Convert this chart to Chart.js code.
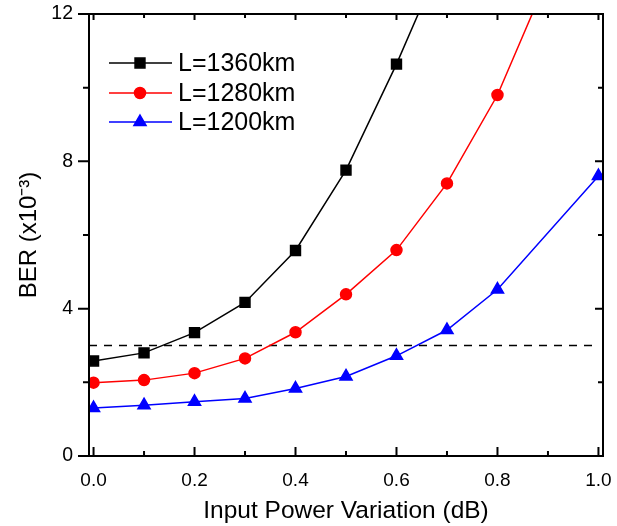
<!DOCTYPE html>
<html>
<head>
<meta charset="utf-8">
<script src="https://cdn.jsdelivr.net/npm/chart.js@4.4.1/dist/chart.umd.min.js"></script>
<style>
  html, body { margin: 0; padding: 0; background: #fff; }
  #wrap { width: 617px; height: 526px; position: relative; }
</style>
</head>
<body>
<div id="wrap"><canvas id="c" width="617" height="526"></canvas></div>
<script>
// ---- data ----
const xValues = [0.0, 0.1, 0.2, 0.3, 0.4, 0.5, 0.6, 0.7, 0.8, 0.9, 1.0];
const ber1360 = [2.58, 2.80, 3.35, 4.17, 5.58, 7.76, 10.64, 13.8];
const ber1280 = [1.99, 2.06, 2.25, 2.65, 3.36, 4.39, 5.59, 7.40, 9.80, 13.0];
const x1200   = [0.0, 0.1, 0.2, 0.3, 0.4, 0.5, 0.6, 0.7, 0.8, 1.0];
const ber1200 = [1.30, 1.38, 1.47, 1.56, 1.83, 2.16, 2.72, 3.42, 4.52, 7.60];
const thresholdX = [-0.009, 1.0];
const thresholdY = [3.0, 3.0];
const seriesNames = ['L=1360km', 'L=1280km', 'L=1200km'];
const xTicks = [0.0, 0.2, 0.4, 0.6, 0.8, 1.0];
const xMinorTicks = [0.1, 0.3, 0.5, 0.7, 0.9];
const yTicks = [0, 4, 8, 12];
const yMinorTicks = [2, 6, 10];

const FONT = '"Liberation Sans", Arial, Helvetica, sans-serif';

function pts(xs, ys) { return ys.map((y, i) => ({ x: xs[i], y: y })); }

const frameAndTicks = {
  id: 'frameAndTicks',
  afterDatasetsDraw(chart) {
    const ctx = chart.ctx;
    const a = chart.chartArea;
    const xs = chart.scales.x, ys = chart.scales.y;
    ctx.save();
    ctx.strokeStyle = '#000';
    ctx.lineWidth = 2;
    ctx.strokeRect(a.left, a.top, a.right - a.left, a.bottom - a.top);
    ctx.beginPath();
    xTicks.forEach(v => {
      const p = xs.getPixelForValue(v);
      ctx.moveTo(p, a.bottom); ctx.lineTo(p, a.bottom - 9);
      ctx.moveTo(p, a.top); ctx.lineTo(p, a.top + 6);
    });
    xMinorTicks.forEach(v => {
      const p = xs.getPixelForValue(v);
      ctx.moveTo(p, a.bottom); ctx.lineTo(p, a.bottom - 5);
      ctx.moveTo(p, a.top); ctx.lineTo(p, a.top + 4);
    });
    yTicks.forEach(v => {
      const p = ys.getPixelForValue(v);
      ctx.moveTo(a.left, p); ctx.lineTo(a.left - 11, p);
      ctx.moveTo(a.right, p); ctx.lineTo(a.right - 8, p);
    });
    yMinorTicks.forEach(v => {
      const p = ys.getPixelForValue(v);
      ctx.moveTo(a.left, p); ctx.lineTo(a.left - 6, p);
      ctx.moveTo(a.right, p); ctx.lineTo(a.right - 5, p);
    });
    ctx.stroke();

    // legend
    const rows = [63, 93, 122];
    for (let i = 0; i < 3; i++) {
      const ds = chart.data.datasets[i];
      const y = rows[i];
      ctx.beginPath();
      ctx.strokeStyle = ds.borderColor;
      ctx.lineWidth = ds.borderWidth;
      ctx.moveTo(109, y); ctx.lineTo(172, y);
      ctx.stroke();
      ctx.fillStyle = ds.pointBackgroundColor;
      ctx.strokeStyle = ds.pointBorderColor;
      Chart.helpers.drawPoint(ctx, { pointStyle: ds.pointStyle, radius: ds.pointRadius, borderWidth: 1, rotation: 0 }, 140, y);
      ctx.fillStyle = '#000';
      ctx.font = '25px ' + FONT;
      ctx.textBaseline = 'middle';
      ctx.textAlign = 'left';
      ctx.fillText(seriesNames[i], 178, y + 1);
    }
    ctx.restore();
  }
};

new Chart(document.getElementById('c'), {
  type: 'line',
  data: {
    datasets: [
      { label: seriesNames[0], data: pts(xValues, ber1360), borderColor: '#000', backgroundColor: '#000',
        pointBackgroundColor: '#000', pointBorderColor: '#000', pointStyle: 'rect', pointRadius: 7, borderWidth: 1.5 },
      { label: seriesNames[1], data: pts(xValues, ber1280), borderColor: '#ff0000', backgroundColor: '#ff0000',
        pointBackgroundColor: '#ff0000', pointBorderColor: '#ff0000', pointStyle: 'circle', pointRadius: 5.5, borderWidth: 1.5 },
      { label: seriesNames[2], data: pts(x1200, ber1200), borderColor: '#0000ff', backgroundColor: '#0000ff',
        pointBackgroundColor: '#0000ff', pointBorderColor: '#0000ff', pointStyle: 'triangle', pointRadius: 7, borderWidth: 1.5 },
      { label: 'threshold', data: pts(thresholdX, thresholdY), borderColor: '#000', borderWidth: 1.7,
        borderDash: [8, 7], pointRadius: 0 }
    ]
  },
  options: {
    responsive: false,
    animation: false,
    devicePixelRatio: 1,
    layout: { padding: { top: 14, right: 14, left: 0, bottom: 0 } },
    plugins: { legend: { display: false }, tooltip: { enabled: false } },
    elements: { line: { tension: 0, fill: false } },
    scales: {
      x: {
        type: 'linear', min: -0.009, max: 1.009,
        grid: { display: false, drawTicks: false },
        border: { display: false },
        afterBuildTicks: s => { s.ticks = xTicks.map(v => ({ value: v })); },
        afterFit: s => { s.height = 70; s.paddingLeft = 0; s.paddingRight = 0; },
        ticks: { color: '#000', font: { family: FONT, size: 19 }, padding: 13,
                 callback: v => Number(v).toFixed(1) },
        title: { display: true, text: 'Input Power Variation (dB)', color: '#000',
                 font: { family: FONT, size: 24.5 }, padding: { top: 0, bottom: 0 } }
      },
      y: {
        type: 'linear', min: 0, max: 12,
        grid: { display: false, drawTicks: false },
        border: { display: false },
        afterBuildTicks: s => { s.ticks = yTicks.map(v => ({ value: v })); },
        afterFit: s => { s.width = 89; s.paddingTop = 0; s.paddingBottom = 0; },
        ticks: { color: '#000', font: { family: FONT, size: 19.5 }, padding: 16,
                 callback: v => String(v) },
        title: { display: true, text: 'BER (x10\u207B\u00B3)', color: '#000',
                 font: { family: FONT, size: 24 }, padding: { top: 15, bottom: 0 } }
      }
    }
  },
  plugins: [frameAndTicks]
});
</script>
</body>
</html>
